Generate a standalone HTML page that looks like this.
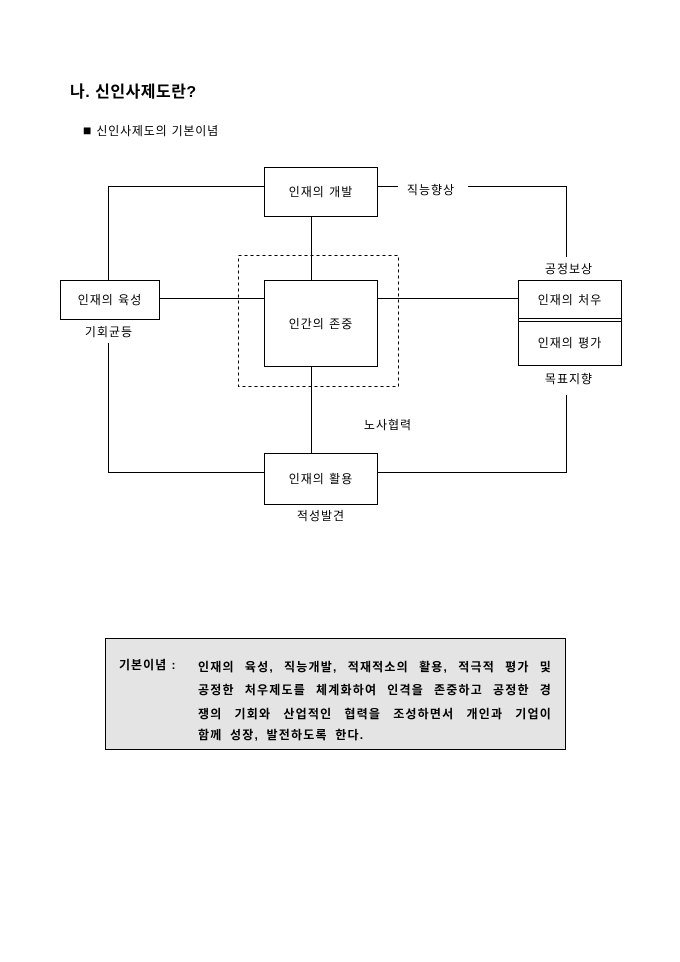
<!DOCTYPE html>
<html><head><meta charset="utf-8"><style>
body{margin:0;background:#fff;width:680px;height:962px;position:relative;font-family:"Liberation Sans","Noto Sans CJK KR",sans-serif;color:#000}
.t{position:absolute;white-space:nowrap}
svg{position:absolute;left:0;top:0}
</style></head><body>
<div class="t" style="left:70px;top:78px;font-size:16px;font-weight:bold;letter-spacing:0.5px">나. 신인사제도란?</div>
<div class="t" style="left:83px;top:122px;font-size:12px;letter-spacing:0.8px"><span style="font-size:14px">■</span> 신인사제도의 기본이념</div>
<svg width="680" height="962" font-family="Liberation Sans, Noto Sans CJK KR, sans-serif" font-size="12" letter-spacing="1">
<g stroke="#000" stroke-width="1" fill="none">
<rect x="238.5" y="255.5" width="160" height="131" stroke-dasharray="3,3"/>
<polyline points="264,186.5 108.5,186.5 108.5,280"/>
<polyline points="108.5,343 108.5,472.5 264,472.5"/>
<polyline points="378,186.5 398,186.5"/>
<polyline points="468,186.5 566.5,186.5 566.5,257"/>
<polyline points="566.5,395 566.5,472.5 378,472.5"/>
<line x1="311.5" y1="216" x2="311.5" y2="280"/>
<line x1="311.5" y1="367" x2="311.5" y2="453"/>
<line x1="160" y1="298.5" x2="264" y2="298.5"/>
<line x1="378" y1="298.5" x2="518" y2="298.5"/>
<rect x="264.5" y="167.5" width="113" height="49" fill="#fff"/>
<rect x="60.5" y="280.5" width="99" height="39" fill="#fff"/>
<rect x="264.5" y="280.5" width="113" height="86" fill="#fff"/>
<rect x="518.5" y="280.5" width="103" height="85" fill="#fff"/>
<line x1="518" y1="318.5" x2="622" y2="318.5"/>
<line x1="518" y1="321.5" x2="622" y2="321.5"/>
<rect x="264.5" y="453.5" width="113" height="51" fill="#fff"/>
</g>
<g text-anchor="middle" fill="#000">
<text x="321" y="196">인재의 개발</text>
<text x="110" y="304">인재의 육성</text>
<text x="321" y="328">인간의 존중</text>
<text x="570" y="304">인재의 처우</text>
<text x="570" y="347">인재의 평가</text>
<text x="321" y="483">인재의 활용</text>
<text x="431" y="194">직능향상</text>
<text x="569" y="273">공정보상</text>
<text x="109" y="336">기회균등</text>
<text x="569" y="383">목표지향</text>
<text x="388" y="429">노사협력</text>
<text x="321" y="520">적성발견</text>
</g>
</svg>
<div style="position:absolute;left:105px;top:638px;width:461px;height:112px;border:1px solid #000;background:#e4e4e4;box-sizing:border-box"></div>
<div class="t" style="left:119px;top:656px;font-size:12px;font-weight:bold;letter-spacing:1px">기본이념 :</div>
<div style="position:absolute;left:198px;top:656px;width:354px;font-size:12px;font-weight:bold;line-height:23.3px;letter-spacing:1.2px;text-align:justify;text-align-last:justify">인재의 육성, 직능개발, 적재적소의 활용, 적극적 평가 및<br>공정한 처우제도를 체계화하여 인격을 존중하고 공정한 경<br>쟁의 기회와 산업적인 협력을 조성하면서 개인과 기업이</div>
<div class="t" style="left:198px;top:726px;font-size:12px;font-weight:bold;letter-spacing:1.2px;word-spacing:3px">함께 성장, 발전하도록 한다.</div>
</body></html>
